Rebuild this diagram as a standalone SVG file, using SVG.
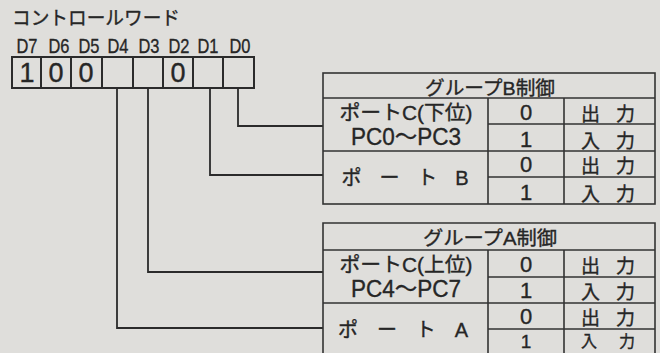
<svg xmlns="http://www.w3.org/2000/svg" width="660" height="353" viewBox="0 0 660 353">
<style>
.bg{fill:#dfdedb}
.box{fill:none;stroke:#2b2b2b;stroke-width:2}
.ln{fill:none;stroke:#333;stroke-width:1.6}
.conn{fill:none;stroke:#2b2b2b;stroke-width:1.8}
text{fill:#262626;stroke:#262626;stroke-width:0.35;font-family:"Liberation Sans","Noto Sans CJK JP",sans-serif}
.jp{font-family:"Noto Sans CJK JP",sans-serif}
.c{text-anchor:middle}
.bit{font-size:27px}
.dl{font-size:21px}
.hd{font-size:19px}
.pt{font-size:20px}
.pc{font-size:24px}
.dg{font-size:22px}
.io{font-size:19px}
</style>
<rect class="bg" x="0" y="0" width="660" height="353"/>
<g id="control-word">
  <text class="jp" x="12" y="25" font-size="19" textLength="168" lengthAdjust="spacingAndGlyphs">コントロールワード</text>
  <g class="dl">
    <text class="c" x="27" y="53" textLength="21" lengthAdjust="spacingAndGlyphs">D7</text>
    <text class="c" x="59" y="53" textLength="21" lengthAdjust="spacingAndGlyphs">D6</text>
    <text class="c" x="89" y="53" textLength="21" lengthAdjust="spacingAndGlyphs">D5</text>
    <text class="c" x="118" y="53" textLength="21" lengthAdjust="spacingAndGlyphs">D4</text>
    <text class="c" x="149" y="53" textLength="21" lengthAdjust="spacingAndGlyphs">D3</text>
    <text class="c" x="179" y="53" textLength="21" lengthAdjust="spacingAndGlyphs">D2</text>
    <text class="c" x="208" y="53" textLength="21" lengthAdjust="spacingAndGlyphs">D1</text>
    <text class="c" x="240" y="53" textLength="21" lengthAdjust="spacingAndGlyphs">D0</text>
  </g>
  <rect class="box" x="12" y="57" width="242" height="31"/>
  <path class="box" d="M41 57V88M71 57V88M102 57V88M133 57V88M163 57V88M193 57V88M223 57V88"/>
  <text class="bit c" x="27" y="82">1</text>
  <text class="bit c" x="56" y="82">0</text>
  <text class="bit c" x="86" y="82">0</text>
  <text class="bit c" x="178" y="82">0</text>
</g>
<g id="connectors">
  <path class="conn" d="M238 88V126H323"/>
  <path class="conn" d="M210 88V175H323"/>
  <path class="conn" d="M148 88V272H323"/>
  <path class="conn" d="M117 88V328H323"/>
</g>
<g id="group-b">
  <rect class="ln" x="323" y="73" width="332" height="131"/>
  <path class="ln" d="M323 98H655M488 124H655M323 151H655M488 177H655M488 98V204M564 98V204"/>
  <text class="hd c" x="490" y="95" textLength="130" lengthAdjust="spacingAndGlyphs">グループB制御</text>
  <text class="pt c" x="406" y="120" textLength="133" lengthAdjust="spacingAndGlyphs">ポートC(下位)</text>
  <text class="pc c" x="406" y="145" textLength="110" lengthAdjust="spacingAndGlyphs">PC0〜PC3</text>
  <text class="pt c" x="405" y="185" font-size="21" textLength="127" lengthAdjust="spacing">ポ ー ト B</text>
  <text class="dg c" x="526" y="120">0</text>
  <text class="dg c" x="526" y="147">1</text>
  <text class="dg c" x="526" y="172">0</text>
  <text class="dg c" x="526" y="200">1</text>
  <text class="io jp c" x="608" y="121" textLength="54" lengthAdjust="spacing">出 力</text>
  <text class="io jp c" x="608" y="148" textLength="54" lengthAdjust="spacing">入 力</text>
  <text class="io jp c" x="608" y="173" textLength="54" lengthAdjust="spacing">出 力</text>
  <text class="io jp c" x="608" y="201" textLength="54" lengthAdjust="spacing">入 力</text>
</g>
<g id="group-a">
  <path class="ln" d="M323 356V223H655V356"/>
  <path class="ln" d="M323 250H655M488 277H655M323 303H655M488 329H655M488 250V356M564 250V356"/>
  <text class="hd c" x="490" y="245" textLength="134" lengthAdjust="spacingAndGlyphs">グループA制御</text>
  <text class="pt c" x="406" y="272" textLength="133" lengthAdjust="spacingAndGlyphs">ポートC(上位)</text>
  <text class="pc c" x="406" y="297" textLength="110" lengthAdjust="spacingAndGlyphs">PC4〜PC7</text>
  <text class="pt c" x="403" y="337" font-size="21" textLength="130" lengthAdjust="spacing">ポ ー ト A</text>
  <text class="dg c" x="526" y="272">0</text>
  <text class="dg c" x="526" y="298">1</text>
  <text class="dg c" x="526" y="324">0</text>
  <text class="c" x="526" y="348" font-size="19">1</text>
  <text class="io jp c" x="608" y="273" textLength="54" lengthAdjust="spacing">出 力</text>
  <text class="io jp c" x="608" y="299" textLength="54" lengthAdjust="spacing">入 力</text>
  <text class="io jp c" x="608" y="325" textLength="54" lengthAdjust="spacing">出 力</text>
  <text class="jp c" x="608" y="347" font-size="16" textLength="54" lengthAdjust="spacing">入 力</text>
</g>
</svg>
